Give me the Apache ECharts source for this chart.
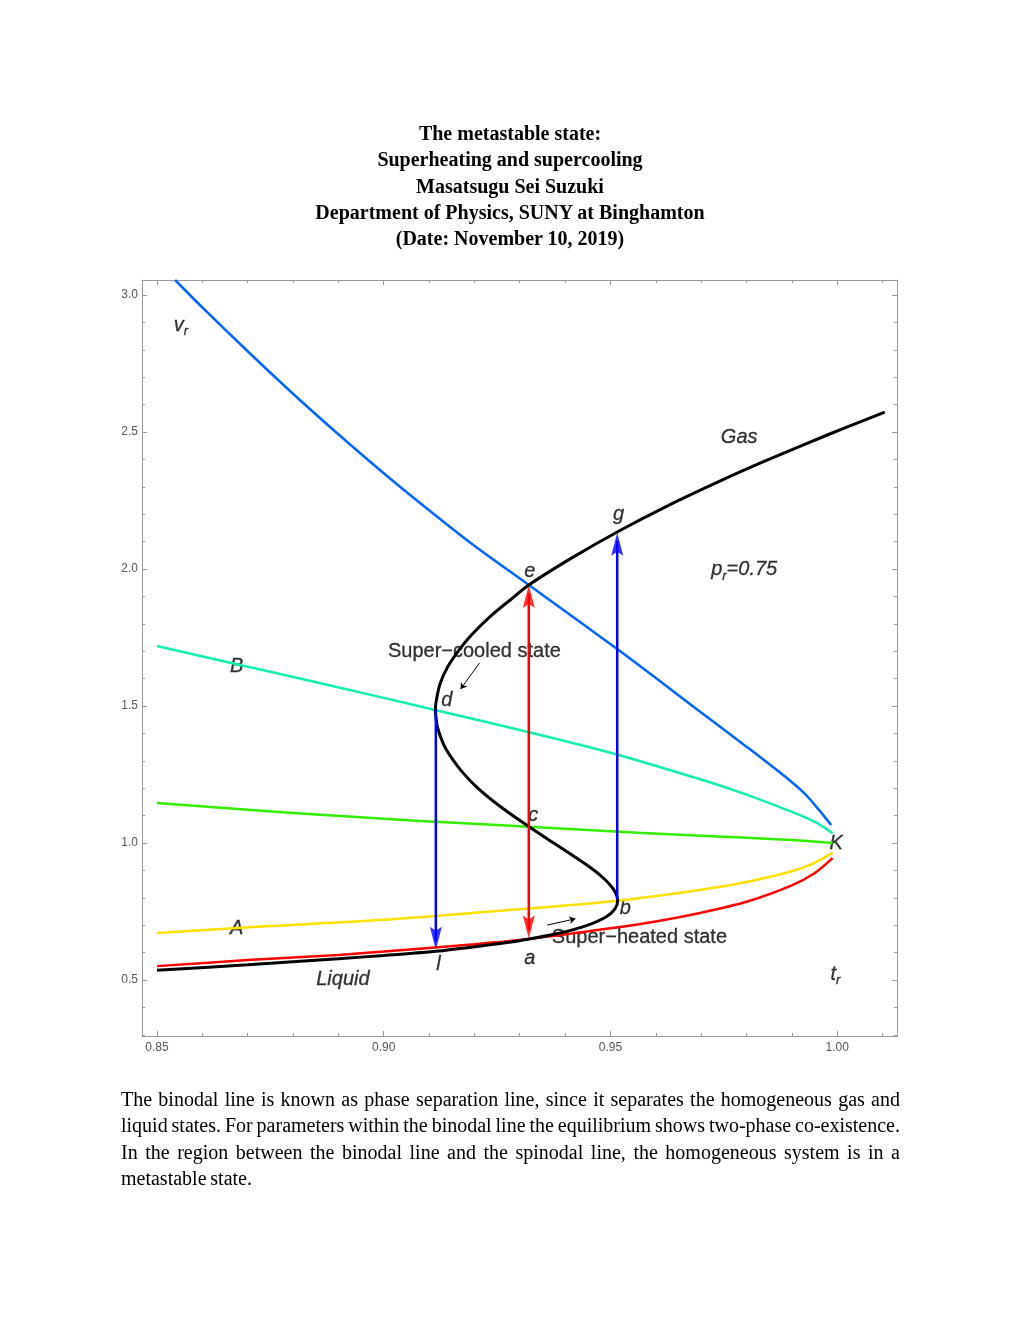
<!DOCTYPE html>
<html>
<head>
<meta charset="utf-8">
<script src="https://cdn.jsdelivr.net/npm/echarts@6/dist/echarts.min.js"></script>
<style>
  body { margin: 0; background: #fff; }
  #chart { position: absolute; left: 0; top: 0; width: 1020px; height: 1320px; }
  .title {
    position: absolute; left: 0; top: 120px; width: 1020px;
    text-align: center; font-family: "Liberation Serif", "Times New Roman", serif;
    font-weight: bold; font-size: 20px; line-height: 26.3px;
  }
  .para {
    position: absolute; left: 121px; top: 1086px; width: 779px;
    font-family: "Liberation Serif", "Times New Roman", serif;
    font-size: 20px; line-height: 26.3px; word-spacing: -1.2px;
  }
  .para div { text-align: justify; text-align-last: justify; white-space: nowrap; }
  .para div.last { text-align-last: left; }
</style>
</head>
<body>
<div id="chart"></div>
<div class="title">
  <div>The metastable state:</div>
  <div>Superheating and supercooling</div>
  <div>Masatsugu Sei Suzuki</div>
  <div>Department of Physics, SUNY at Binghamton</div>
  <div>(Date: November 10, 2019)</div>
</div>
<div class="para">
  <div>The binodal line is known as phase separation line, since it separates the homogeneous gas and</div>
  <div>liquid states. For parameters within the binodal line the equilibrium shows two-phase co-existence.</div>
  <div>In the region between the binodal line and the spinodal line, the homogeneous system is in a</div>
  <div class="last">metastable state.</div>
</div>
<script>
// [t_r, v_r] pairs
var isobar = [[0.850,0.536],[0.870,0.556],[0.890,0.578],[0.900,0.590],[0.9115,0.605],[0.9285,0.640],
  [0.932,0.650],[0.9384,0.670],[0.9449,0.700],[0.949,0.730],[0.951,0.760],[0.9516,0.790],[0.9511,0.820],
  [0.9498,0.850],[0.9476,0.885],[0.9448,0.920],[0.9412,0.960],[0.9375,1.000],[0.9315,1.066],[0.926,1.130],
  [0.9208,1.200],[0.9173,1.260],[0.9146,1.320],[0.9132,1.360],[0.9119,1.420],[0.9116,1.450],[0.9114,1.485],
  [0.9116,1.520],[0.9124,1.580],[0.914,1.640],[0.9164,1.700],[0.9194,1.760],[0.9237,1.830],[0.9281,1.890],
  [0.932,1.942],[0.9414,2.040],[0.952,2.140],[0.9625,2.230],[0.974,2.320],[0.9835,2.390],[0.9935,2.460],
  [1.0024,2.520],[1.0105,2.573]];
var binodalLiq = [[0.850,0.551],[0.870,0.573],[0.890,0.592],[0.900,0.604],[0.920,0.631],[0.932,0.650],
  [0.950,0.689],[0.960,0.714],[0.970,0.746],[0.980,0.786],[0.990,0.846],[0.995,0.890],[0.999,0.945]];
var spinodalLiq = [[0.850,0.672],[0.875,0.697],[0.900,0.720],[0.925,0.752],[0.9515,0.790],[0.970,0.830],
  [0.980,0.858],[0.990,0.897],[0.995,0.928],[0.999,0.965]];
var middle = [[0.850,1.146],[0.880,1.110],[0.908,1.081],[0.932,1.060],[0.956,1.038],[0.970,1.027],
  [0.990,1.011],[0.999,1.000]];
var spinodalGas = [[0.850,1.719],[0.875,1.625],[0.900,1.530],[0.9115,1.485],[0.930,1.413],[0.950,1.330],
  [0.970,1.232],[0.980,1.177],[0.990,1.114],[0.995,1.078],[0.999,1.036]];
var binodalGas = [[0.854,3.055],[0.860,2.955],[0.870,2.795],[0.880,2.640],[0.890,2.492],[0.900,2.350],
  [0.910,2.215],[0.920,2.085],[0.932,1.942],[0.9515,1.708],[0.970,1.477],[0.980,1.352],[0.9887,1.240],
  [0.993,1.178],[0.9953,1.135],[0.9987,1.066]];

// vertical arrows: [t, v from, v to]
var arrowDown = [0.9115, 1.485, 0.611];
var arrowBoth = [0.932, 0.652, 1.942];
var arrowUp = [0.9515, 0.795, 2.133];
var smallArrows = [[[0.92115,1.658],[0.91696,1.562]], [[0.93605,0.7007],[0.94229,0.7237]]];

// labels: [t, v, text]
var labels = [
  [0.8553, 2.891, '{it|v}{sub|r}'],
  [0.8676, 1.646, '{it|B}'],
  [0.8676, 0.690, '{it|A}'],
  [0.8910, 0.504, '{it|Liquid}'],
  [0.9121, 0.558, '{it|l}'],
  [0.9322, 0.580, '{it|a}'],
  [0.9533, 0.763, '{it|b}'],
  [0.9330, 1.102, '{it|c}'],
  [0.9139, 1.522, '{it|d}'],
  [0.9322, 1.993, '{it|e}'],
  [0.9518, 2.201, '{it|g}'],
  [0.9784, 2.482, '{it|Gas}'],
  [0.9795, 1.998, '{it|p}{sub|r}{it|=0.75}'],
  [0.9998, 1.000, '{it|K}'],
  [0.9996, 0.522, '{it|t}{sub|r}'],
  [0.9200, 1.701, '{up|Super\u2212cooled state}'],
  [0.9564, 0.657, '{up|Super\u2212heated state}']
];

var upHead = 'path://M6,0 L12,23 L6,19 L0,23 Z';
var downHead = 'path://M0,0 L6,4 L12,0 L6,23 Z';

function isMult(v, step) { return Math.abs(v / step - Math.round(v / step)) < 1e-6; }

var axisCommon = {
  type: 'value',
  axisLine: { show: true, onZero: false, lineStyle: { color: '#999', width: 1 } },
  axisTick: { show: true, inside: true, length: 5, lineStyle: { color: '#999' } },
  minorTick: { show: true, splitNumber: 5, length: 3, lineStyle: { color: '#999' } },
  splitLine: { show: false }
};

function curve(data, color, width) {
  return { type: 'line', data: data, showSymbol: false, symbol: 'none', smooth: 0.3,
    lineStyle: { color: color, width: width }, silent: true, animation: false };
}
function shaft(a, color) {
  return { type: 'line', data: [[a[0], a[1]], [a[0], a[2]]], showSymbol: false, symbol: 'none',
    lineStyle: { color: color, width: 2.5 }, silent: true, animation: false };
}

// a very thin black outline makes the canvas text as dark as the reference's
var txt = { fontFamily: 'Liberation Sans, Arial', color: '#000', textBorderWidth: 0.3, textBorderColor: '#000' };
function style(extra) { return Object.assign({}, txt, extra); }

var chart = echarts.init(document.getElementById('chart'));
chart.setOption({
  animation: false,
  grid: { left: 142, top: 280, width: 755, height: 756 },
  xAxis: [
    Object.assign({}, axisCommon, { min: 0.8467, max: 1.0132, splitNumber: 3, minInterval: 0.05, maxInterval: 0.05,
      position: 'bottom',
      axisLabel: { color: '#555', fontSize: 12, fontFamily: 'Liberation Sans, Arial', margin: 6,
        formatter: function (v) { return isMult(v, 0.05) ? v.toFixed(2) : ''; } } }),
    Object.assign({}, axisCommon, { min: 0.8467, max: 1.0132, splitNumber: 3, minInterval: 0.05, maxInterval: 0.05,
      position: 'top', axisLabel: { show: false } })
  ],
  yAxis: [
    Object.assign({}, axisCommon, { min: 0.296, max: 3.055, splitNumber: 5, minInterval: 0.5, maxInterval: 0.5,
      position: 'left',
      axisLabel: { color: '#555', fontSize: 12, fontFamily: 'Liberation Sans, Arial', margin: 4,
        formatter: function (v) { return isMult(v, 0.5) ? v.toFixed(1) : ''; } } }),
    Object.assign({}, axisCommon, { min: 0.296, max: 3.055, splitNumber: 5, minInterval: 0.5, maxInterval: 0.5,
      position: 'right', axisLabel: { show: false } })
  ],
  series: [
    curve(spinodalLiq, '#ffe000', 2.5),
    curve(binodalLiq, '#ff0000', 2.5),
    curve(middle, '#33ee00', 2.5),
    curve(spinodalGas, '#10f0b0', 2.5),
    curve(binodalGas, '#0066ff', 2.5),
    curve(isobar, '#000000', 3),
    shaft([arrowDown[0], arrowDown[1], arrowDown[2] + 0.03], '#0000ff'),
    shaft([arrowBoth[0], arrowBoth[1] + 0.03, arrowBoth[2] - 0.03], '#ff0000'),
    shaft([arrowUp[0], arrowUp[1], arrowUp[2] - 0.03], '#0000ff'),
    {
      type: 'scatter', silent: true, animation: false, symbolSize: [12, 23],
      data: [
        { value: [arrowDown[0], arrowDown[2]], symbol: downHead, symbolOffset: [0, '-50%'], itemStyle: { color: '#0000ff' } },
        { value: [arrowBoth[0], arrowBoth[1]], symbol: downHead, symbolOffset: [0, '-50%'], itemStyle: { color: '#ff0000' } },
        { value: [arrowBoth[0], arrowBoth[2]], symbol: upHead, symbolOffset: [0, '50%'], itemStyle: { color: '#ff0000' } },
        { value: [arrowUp[0], arrowUp[2]], symbol: upHead, symbolOffset: [0, '50%'], itemStyle: { color: '#0000ff' } }
      ]
    },
    {
      type: 'lines', coordinateSystem: 'cartesian2d', silent: true, animation: false,
      symbol: ['none', 'arrow'], symbolSize: 6,
      lineStyle: { color: '#000', width: 1, opacity: 1 },
      data: smallArrows.map(function (c) { return { coords: c }; })
    },
    {
      type: 'scatter', silent: true, animation: false, symbolSize: 0,
      itemStyle: { color: '#000' },
      data: labels,
      label: Object.assign({}, txt, {
        show: true, position: [0, 0], align: 'center', verticalAlign: 'middle',
        formatter: function (p) { return p.value[2]; },
        rich: {
          it: style({ fontStyle: 'italic', fontSize: 20, lineHeight: 26 }),
          sub: style({ fontStyle: 'italic', fontSize: 13, lineHeight: 13, padding: [13, 0, 0, 0] }),
          up: style({ fontSize: 20, lineHeight: 26 })
        }
      })
    }
  ]
});
</script>
</body>
</html>
